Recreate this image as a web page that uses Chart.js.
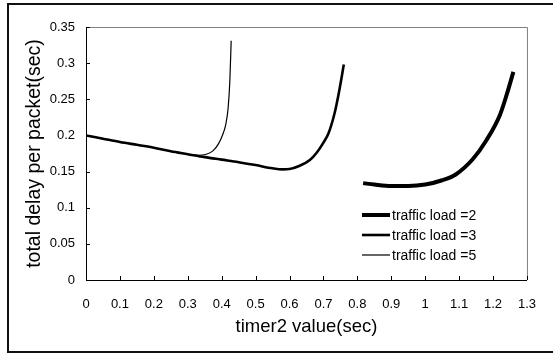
<!DOCTYPE html>
<html>
<head>
<meta charset="utf-8">
<script src="https://cdn.jsdelivr.net/npm/chart.js@4.4.0/dist/chart.umd.min.js"></script>
<style>
  html, body { margin: 0; padding: 0; background: #fff; }
</style>
</head>
<body>
<canvas id="chart" width="553" height="354"></canvas>
<script>
// axis ticks
const xTicks = [0, 0.1, 0.2, 0.3, 0.4, 0.5, 0.6, 0.7, 0.8, 0.9, 1, 1.1, 1.2, 1.3];
const yTicks = [0, 0.05, 0.1, 0.15, 0.2, 0.25, 0.3, 0.35];

// traffic load = 2
const load2X = [0.817, 0.85, 0.9, 0.95, 1.0, 1.05, 1.09, 1.14, 1.18, 1.22, 1.24, 1.26];
const load2Y = [0.134, 0.132, 0.130, 0.130, 0.132, 0.138, 0.146, 0.167, 0.193, 0.228, 0.256, 0.288];

// traffic load = 3
const load3X = [0, 0.05, 0.1, 0.15, 0.2, 0.25, 0.3, 0.35, 0.4, 0.45, 0.5, 0.55, 0.58, 0.6, 0.63, 0.66, 0.68, 0.7, 0.715, 0.733, 0.747, 0.76];
const load3Y = [0.200, 0.1955, 0.191, 0.187, 0.183, 0.178, 0.174, 0.170, 0.1665, 0.163, 0.159, 0.1545, 0.153, 0.1535, 0.158, 0.166, 0.176, 0.190, 0.203, 0.231, 0.263, 0.298];

// traffic load = 5
const load5X = [0, 0.05, 0.1, 0.15, 0.2, 0.25, 0.3, 0.33, 0.355, 0.375, 0.39, 0.402, 0.412, 0.419, 0.424, 0.428];
const load5Y = [0.200, 0.1955, 0.191, 0.187, 0.183, 0.178, 0.174, 0.1725, 0.174, 0.179, 0.188, 0.200, 0.215, 0.238, 0.275, 0.331];

const labels = ["traffic load =2", "traffic load =3", "traffic load =5"];

const FONT = "'Liberation Sans', Arial, sans-serif";

function toPoints(xs, ys) {
    return xs.map((x, i) => ({ x: x, y: ys[i] }));
}

// white page + outer frame
const framePlugin = {
    id: "frame",
    beforeDraw(chart) {
        const ctx = chart.ctx;
        ctx.save();
        ctx.fillStyle = "#fff";
        ctx.fillRect(0, 0, chart.width, chart.height);
        ctx.strokeStyle = "#111";
        ctx.lineWidth = 2;
        ctx.strokeRect(8, 4, 560, 348);
        ctx.restore();
    },
    afterDraw(chart) {
        const ctx = chart.ctx;
        const a = chart.chartArea;
        const xs = chart.scales.x;
        const ys = chart.scales.y;
        ctx.save();
        // gray top/right of plot box
        ctx.strokeStyle = "#808080";
        ctx.lineWidth = 1;
        ctx.beginPath();
        ctx.moveTo(a.left, a.top + 0.5);
        ctx.lineTo(a.right + 0.5, a.top + 0.5);
        ctx.lineTo(a.right + 0.5, a.bottom);
        ctx.stroke();
        // inward tick marks
        ctx.strokeStyle = "#000";
        ctx.beginPath();
        xTicks.forEach(v => {
            const px = Math.round(xs.getPixelForValue(v)) + 0.5;
            ctx.moveTo(px, a.bottom);
            ctx.lineTo(px, a.bottom - 4);
        });
        yTicks.forEach(v => {
            const py = Math.round(ys.getPixelForValue(v)) + 0.5;
            ctx.moveTo(a.left, py);
            ctx.lineTo(a.left + 4, py);
        });
        ctx.stroke();
        ctx.restore();
    }
};

// legend inside the plot
const legendPlugin = {
    id: "innerLegend",
    afterDatasetsDraw(chart) {
        const ctx = chart.ctx;
        ctx.save();
        ctx.font = "14px " + FONT;
        ctx.textBaseline = "middle";
        ctx.fillStyle = "#000";
        chart.data.datasets.forEach((ds, i) => {
            const y = 215 + i * 20;
            ctx.strokeStyle = "#000";
            ctx.lineWidth = ds.borderWidth;
            ctx.beginPath();
            ctx.moveTo(362, y);
            ctx.lineTo(390, y);
            ctx.stroke();
            ctx.fillText(ds.label, 392, y + 1);
        });
        ctx.restore();
    }
};

const lineDefaults = {
    showLine: true,
    fill: false,
    pointRadius: 0,
    borderColor: "#000",
    cubicInterpolationMode: "monotone"
};

new Chart("chart", {
    type: "scatter",
    data: {
        datasets: [
            { ...lineDefaults, label: labels[0], data: toPoints(load2X, load2Y), borderWidth: 4 },
            { ...lineDefaults, label: labels[1], data: toPoints(load3X, load3Y), borderWidth: 2.6 },
            { ...lineDefaults, label: labels[2], data: toPoints(load5X, load5Y), borderWidth: 1.2 }
        ]
    },
    options: {
        responsive: false,
        animation: false,
        layout: { padding: { left: 20, top: 27, right: 20, bottom: 0 } },
        plugins: {
            legend: { display: false },
            tooltip: { enabled: false }
        },
        scales: {
            x: {
                type: "linear",
                min: 0,
                max: 1.3,
                afterBuildTicks: s => { s.ticks = xTicks.map(v => ({ value: v })); },
                afterFit: s => { s.height = 74; },
                grid: { display: false, drawTicks: false },
                border: { display: true, color: "#000", width: 1 },
                ticks: {
                    color: "#000",
                    padding: 17,
                    maxRotation: 0,
                    font: { family: FONT, size: 13 },
                    callback: v => String(v)
                },
                title: {
                    display: true,
                    text: "timer2 value(sec)",
                    color: "#000",
                    font: { family: FONT, size: 18.5 },
                    padding: { top: 0, bottom: 16 }
                }
            },
            y: {
                type: "linear",
                min: 0,
                max: 0.35,
                afterBuildTicks: s => { s.ticks = yTicks.map(v => ({ value: v })); },
                afterFit: s => { s.width = 66; },
                grid: { display: false, drawTicks: false },
                border: { display: true, color: "#000", width: 1 },
                ticks: {
                    color: "#000",
                    padding: 11,
                    font: { family: FONT, size: 13 },
                    callback: v => String(v)
                },
                title: {
                    display: true,
                    text: "total delay per packet(sec)",
                    color: "#000",
                    font: { family: FONT, size: 19.5 },
                    padding: { top: 3, bottom: 0 }
                }
            }
        }
    },
    plugins: [framePlugin, legendPlugin]
});
</script>
</body>
</html>
